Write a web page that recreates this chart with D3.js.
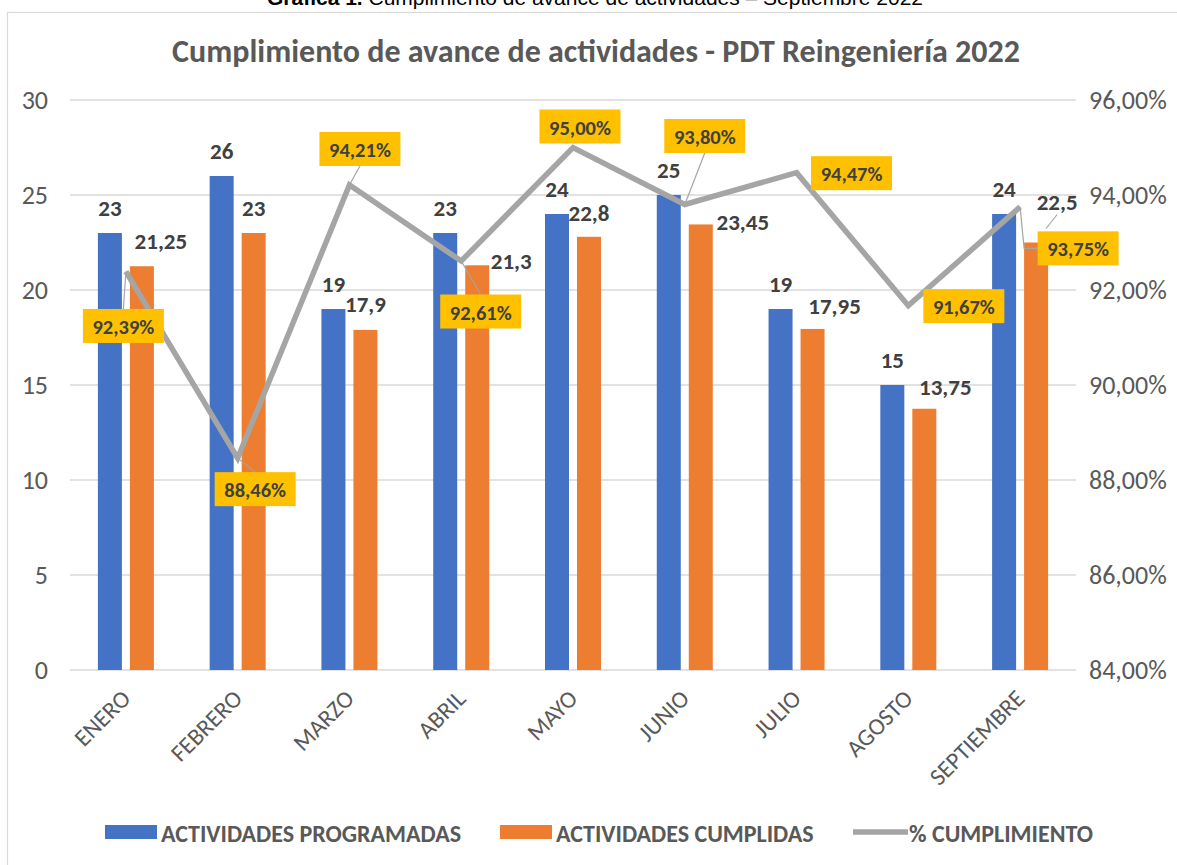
<!DOCTYPE html>
<html>
<head>
<meta charset="utf-8">
<script src="https://cdn.jsdelivr.net/npm/d3@7"></script>
<style>
  html, body { margin: 0; padding: 0; background: #ffffff; }
  svg { display: block; }
</style>
</head>
<body>
<svg id="chart" width="1177" height="865"></svg>
<script>
// ---- data ----
const categories = ["ENERO", "FEBRERO", "MARZO", "ABRIL", "MAYO", "JUNIO", "JULIO", "AGOSTO", "SEPTIEMBRE"];
const programadas = [23, 26, 19, 23, 24, 25, 19, 15, 24];
const cumplidas = [21.25, 23, 17.9, 21.3, 22.8, 23.45, 17.95, 13.75, 22.5];
const cumplimiento = [92.39, 88.46, 94.21, 92.61, 95.00, 93.80, 94.47, 91.67, 93.75];
const leftTicks = [0, 5, 10, 15, 20, 25, 30];
const rightTicks = [84, 86, 88, 90, 92, 94, 96];
const seriesNames = ["ACTIVIDADES PROGRAMADAS", "ACTIVIDADES CUMPLIDAS", "% CUMPLIMIENTO"];
const captionBold = "Gráfica 1.";
const captionRest = " Cumplimiento de avance de actividades – Septiembre 2022";
const titleText = "Cumplimiento de avance de actividades - PDT Reingeniería 2022";

// ---- label placement tweaks (layout, px) ----
const cumpLabelShift = [[19,-25],[0,-25],[0,-26],[34,-4],[0,-24],[42,-2],[22,-23],[21,-22],[21,-41]];
const pctLabelShift = [[-2.5,54.5],[17.5,31],[10.5,-36],[19.5,50.5],[7,-21],[20,-68.5],[55,0.5],[55.5,0.5],[58,41.5]];
const pctLeader = ["top","top","bottom","top",null,"bottom",null,null,"elbow"];

// ---- styles ----
const C = { blue: "#4472C4", orange: "#ED7D31", gray: "#A5A5A5", yellow: "#FFC000",
            text: "#595959", label: "#404040", grid: "#D9D9D9" };
const FONT = "Carlito, Calibri, Lato, sans-serif";

const svg = d3.select("#chart");
svg.append("rect").attr("width", 1177).attr("height", 865).attr("fill", "#fff");

// caption (cut off at top, as in the reference)
const cap = svg.append("text").attr("x", 595).attr("y", 5).attr("text-anchor", "middle")
  .style("font-family", "Liberation Sans, Arial, sans-serif").style("font-size", "21px").attr("fill", "#000");
cap.append("tspan").style("font-weight", "bold").text(captionBold);
cap.append("tspan").text(captionRest);

// chart border
svg.append("rect").attr("x", 7.5).attr("y", 12.5).attr("width", 1200).attr("height", 900)
  .attr("fill", "none").attr("stroke", C.grid).attr("stroke-width", 1.2);

// title
svg.append("text").attr("x", 596).attr("y", 62).attr("text-anchor", "middle")
  .style("font-family", FONT).style("font-weight", "bold").style("font-size", "32px")
  .attr("fill", C.text).text(titleText);

// scales
const x0 = d3.scaleBand().domain(categories).range([70, 1076]);
const x1 = d3.scaleBand().domain(["p", "c"]).range([-28, 28]).paddingInner(0.25);
const yL = d3.scaleLinear().domain([0, 30]).range([670, 100]);
const yR = d3.scaleLinear().domain([84, 96]).range([670, 100]);
const cx = c => x0(c) + x0.bandwidth() / 2;

// gridlines
svg.append("g").selectAll("line").data(leftTicks).join("line")
  .attr("x1", 70).attr("x2", 1076).attr("y1", d => yL(d)).attr("y2", d => yL(d))
  .attr("stroke", C.grid).attr("stroke-width", 1.5);

// left axis
const axL = svg.append("g").attr("transform", "translate(48,0)")
  .call(d3.axisLeft(yL).tickValues(leftTicks).tickSize(0).tickPadding(0));
axL.select(".domain").remove();
axL.selectAll("text").style("font-family", FONT).style("font-size", "26px").attr("fill", C.text);

// right axis
const axR = svg.append("g").attr("transform", "translate(1089,0)")
  .call(d3.axisRight(yR).tickValues(rightTicks).tickSize(0).tickPadding(0)
    .tickFormat(d => d.toFixed(2).replace(".", ",") + "%"));
axR.select(".domain").remove();
axR.selectAll("text").style("font-family", FONT).style("font-size", "26px").attr("fill", C.text);

// category labels
svg.append("g").selectAll("text").data(categories).join("text")
  .attr("transform", d => `translate(${cx(d) + 6},${700}) rotate(-45)`)
  .attr("text-anchor", "end")
  .style("font-family", FONT).style("font-size", "24px").attr("fill", C.text)
  .text(d => d);

// bars
const gBars = svg.append("g");
gBars.selectAll("rect.p").data(categories).join("rect").attr("class", "p")
  .attr("x", (d) => cx(d) + x1("p")).attr("width", x1.bandwidth())
  .attr("y", (d, i) => yL(programadas[i])).attr("height", (d, i) => yL(0) - yL(programadas[i]))
  .attr("fill", C.blue);
gBars.selectAll("rect.c").data(categories).join("rect").attr("class", "c")
  .attr("x", (d) => cx(d) + x1("c")).attr("width", x1.bandwidth())
  .attr("y", (d, i) => yL(cumplidas[i])).attr("height", (d, i) => yL(0) - yL(cumplidas[i]))
  .attr("fill", C.orange);

// line
const line = d3.line().x((d, i) => cx(categories[i])).y(d => yR(d));
svg.append("path").datum(cumplimiento).attr("d", line)
  .attr("fill", "none").attr("stroke", C.gray).attr("stroke-width", 5.5).attr("stroke-linejoin", "miter");

// bar value labels
const fmt = v => String(v).replace(".", ",");
const lblStyle = sel => sel.style("font-family", FONT).style("font-weight", "bold")
  .style("font-size", "23px").attr("fill", C.label).attr("text-anchor", "middle")
  .attr("dominant-baseline", "central");
svg.append("g").selectAll("text").data(categories).join("text")
  .attr("x", d => cx(d) + x1("p") + x1.bandwidth() / 2)
  .attr("y", (d, i) => yL(programadas[i]) - 25)
  .text((d, i) => programadas[i]).call(lblStyle);
svg.append("g").selectAll("text").data(categories).join("text")
  .attr("x", (d, i) => cx(d) + x1("c") + x1.bandwidth() / 2 + cumpLabelShift[i][0])
  .attr("y", (d, i) => yL(cumplidas[i]) + cumpLabelShift[i][1])
  .text((d, i) => fmt(cumplidas[i])).call(lblStyle);

// leader for the last cumplidas label
{
  const i = 8, c = categories[i];
  const lx = cx(c) + x1("c") + x1.bandwidth() / 2 + cumpLabelShift[i][0];
  const ly = yL(cumplidas[i]) + cumpLabelShift[i][1];
  svg.append("line").attr("x1", lx).attr("y1", ly + 13).attr("x2", lx - 11).attr("y2", ly + 27)
    .attr("stroke", C.gray).attr("stroke-width", 1.2);
}

// percentage labels with boxes + leaders
const BW = 81, BH = 34;
const gPct = svg.append("g");
categories.forEach((c, i) => {
  const px = cx(c), py = yR(cumplimiento[i]);
  const bx = px + pctLabelShift[i][0], by = py + pctLabelShift[i][1];
  const mode = pctLeader[i];
  if (mode) {
    let pts;
    if (mode === "top") pts = [[px, py], [bx, by - BH / 2]];
    else if (mode === "bottom") pts = [[px, py], [bx, by + BH / 2]];
    else pts = [[px, py], [px + 4, by], [bx - BW / 2, by]];
    gPct.append("path").attr("d", d3.line()(pts)).attr("fill", "none")
      .attr("stroke", C.gray).attr("stroke-width", 1.2);
  }
});
categories.forEach((c, i) => {
  const px = cx(c), py = yR(cumplimiento[i]);
  const bx = px + pctLabelShift[i][0], by = py + pctLabelShift[i][1];
  gPct.append("rect").attr("x", bx - BW / 2).attr("y", by - BH / 2).attr("width", BW).attr("height", BH)
    .attr("fill", C.yellow);
  gPct.append("text").attr("x", bx).attr("y", by + 1)
    .text(cumplimiento[i].toFixed(2).replace(".", ",") + "%")
    .style("font-family", FONT).style("font-weight", "bold").style("font-size", "20.5px")
    .attr("fill", C.label).attr("text-anchor", "middle").attr("dominant-baseline", "central");
});

// legend
const legY = 832;
const leg = svg.append("g");
const legItems = [
  { name: seriesNames[0], color: C.blue, type: "rect", x: 105 },
  { name: seriesNames[1], color: C.orange, type: "rect", x: 500 },
  { name: seriesNames[2], color: C.gray, type: "line", x: 853 }
];
legItems.forEach(it => {
  if (it.type === "rect") {
    leg.append("rect").attr("x", it.x).attr("y", legY - 7).attr("width", 52).attr("height", 14).attr("fill", it.color);
  } else {
    leg.append("line").attr("x1", it.x).attr("x2", it.x + 55).attr("y1", legY).attr("y2", legY)
      .attr("stroke", it.color).attr("stroke-width", 5.5);
  }
  leg.append("text").attr("x", it.x + 56).attr("y", legY + 1).attr("dominant-baseline", "central")
    .style("font-family", FONT).style("font-weight", "bold").style("font-size", "24px")
    .attr("fill", C.text).text(it.name);
});
</script>
</body>
</html>
